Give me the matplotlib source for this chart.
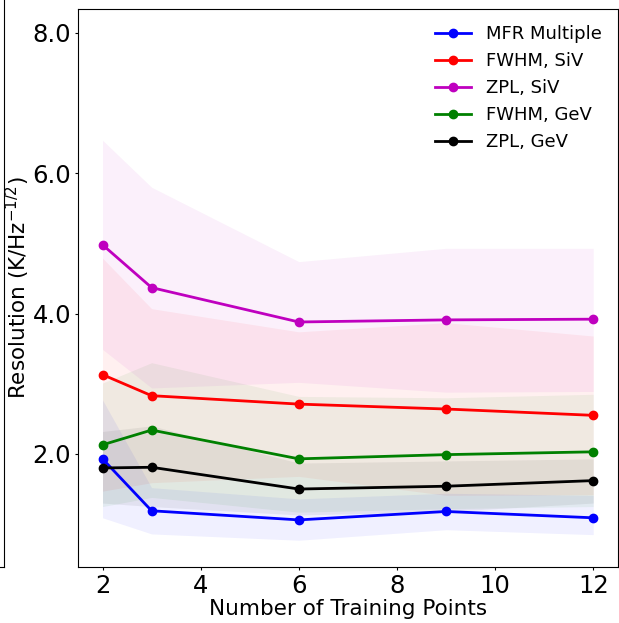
import numpy as np
import matplotlib
matplotlib.use("Agg")
import matplotlib.pyplot as plt
from matplotlib.ticker import FixedLocator, FormatStrFormatter

# training points on the x axis
n_points = [2, 3, 6, 9, 12]

labels = ["MFR Multiple", "FWHM, SiV", "ZPL, SiV", "FWHM, GeV", "ZPL, GeV"]
colors = ["b", "r", "m", "g", "k"]

# mean resolution per series
mfr_mean = [1.93, 1.19, 1.06, 1.18, 1.09]
fwhm_siv_mean = [3.13, 2.83, 2.71, 2.64, 2.55]
zpl_siv_mean = [4.98, 4.37, 3.88, 3.91, 3.92]
fwhm_gev_mean = [2.13, 2.34, 1.93, 1.99, 2.03]
zpl_gev_mean = [1.80, 1.81, 1.50, 1.54, 1.62]

# shaded spread (lower / upper)
mfr_lo = [1.09, 0.86, 0.77, 0.92, 0.85]
mfr_hi = [2.77, 1.52, 1.36, 1.44, 1.41]
fwhm_siv_lo = [1.47, 1.59, 1.68, 1.41, 1.42]
fwhm_siv_hi = [4.79, 4.07, 3.74, 3.87, 3.68]
zpl_siv_lo = [3.49, 2.94, 3.02, 2.88, 2.89]
zpl_siv_hi = [6.47, 5.80, 4.74, 4.93, 4.93]
fwhm_gev_lo = [1.25, 1.38, 1.17, 1.22, 1.25]
fwhm_gev_hi = [3.01, 3.30, 2.82, 2.80, 2.85]
zpl_gev_lo = [1.30, 1.25, 1.13, 1.18, 1.30]
zpl_gev_hi = [2.32, 2.40, 1.87, 1.90, 1.93]

means = [mfr_mean, fwhm_siv_mean, zpl_siv_mean, fwhm_gev_mean, zpl_gev_mean]
lows = [mfr_lo, fwhm_siv_lo, zpl_siv_lo, fwhm_gev_lo, zpl_gev_lo]
highs = [mfr_hi, fwhm_siv_hi, zpl_siv_hi, fwhm_gev_hi, zpl_gev_hi]

fig = plt.figure(figsize=(6.19, 6.23), dpi=100)

# edge of the neighbouring panel (figure was cropped from a wider one)
ax0 = fig.add_axes([-0.3, 0.090, 0.3065, 1.0])
ax0.set_xticks([])
ax0.set_yticks([])
ax0.spines["left"].set_visible(False)
ax0.spines["top"].set_visible(False)

ax = fig.add_axes([0.126, 0.090, 0.872, 0.8956])

for m, lo, hi, c, lab in zip(means, lows, highs, colors, labels):
    ax.plot(n_points, m, "o-", color=c, lw=2, ms=6, label=lab)
    ax.fill_between(n_points, lo, hi, color=c, alpha=0.06, lw=0)

ax.set_xlim(1.5, 12.5)
ax.set_ylim(0.39, 8.34)
ax.xaxis.set_major_locator(FixedLocator([2, 4, 6, 8, 10, 12]))
ax.yaxis.set_major_locator(FixedLocator([2, 4, 6, 8]))
ax.yaxis.set_major_formatter(FormatStrFormatter("%.1f"))
ax.tick_params(labelsize=17.5, length=2.5, pad=2.5)

ax.set_xlabel("Number of Training Points", fontsize=15.5, labelpad=1)
ax.set_ylabel("Resolution (K/Hz$^{-1/2}$)", fontsize=15.5, labelpad=0)
ax.legend(loc="upper right", frameon=False, fontsize=13)

plt.savefig("out.png", dpi=100)
